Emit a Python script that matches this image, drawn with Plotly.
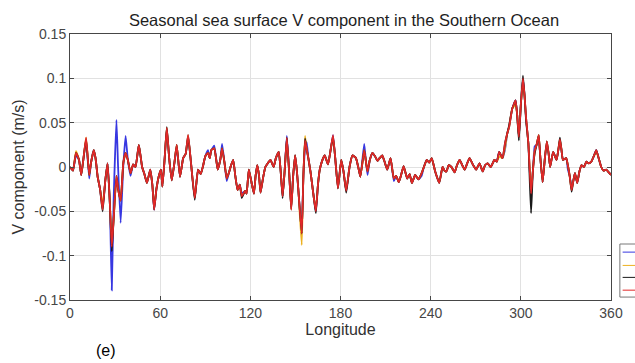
import plotly.graph_objects as go

# Longitudes (deg) and values (red series = main curve)
lon = [0, 2, 4, 6, 7.5, 9, 10.7, 12.8, 14, 15.8, 17, 18.4, 20, 21.7, 23.5, 25, 26.5, 27.8, 29, 30.9,
       32, 33.7, 35.5, 37, 38.5, 40.3, 42, 43.6, 45.8, 48, 49.5, 51.2, 53.4, 54.8, 56, 57.5, 59, 60.5,
       61.5, 63, 64.4, 66, 67.7, 69.5, 71, 73.2, 75.3, 77, 78.6, 80.5, 83, 85.2, 87, 88.5, 90, 91.8,
       93, 94, 96, 98.3, 100, 101.2, 102.8, 104.3, 106, 107, 108.6, 110, 111.5, 113, 114.3, 116.5,
       117.5, 119, 120.5, 122.4, 123.5, 124.6, 125.8, 126.8, 128.5, 130, 131.5, 133.4, 135.5, 137,
       138.9, 140.2, 141.5, 143, 144.3, 145.8, 147.2, 148.5, 149.8, 151, 152, 154.2, 155.3, 156.4,
       157.5, 158.6, 160, 161, 162.5, 163.6, 165, 166.2, 168, 169.5, 171.7, 173.5, 175, 176.5, 178.3,
       180.5, 182, 183.8, 186, 188, 190.3, 191.8, 193.2, 195.8, 197, 198, 199.5, 201.3, 203, 204.6,
       206, 207.8, 209.5, 211.1, 213.3, 215.5, 217, 218.8, 220.5, 222, 224.4, 226, 227.5, 229.7,
       231.9, 234, 235.5, 237.4, 239, 240.7, 243, 245.7, 247.9, 249.2, 250.5, 252, 253.8, 256,
       257.5, 259.3, 261, 262.6, 264.5, 265.9, 268, 270.3, 272.5, 274.6, 276.2, 277.9, 280, 282.4,
       284, 285.6, 287.8, 289.5, 291, 292.2, 294.3, 296.5, 297.5, 298.7, 300, 301.4, 302.5, 303.5,
       305, 306.8, 308, 309.2, 310.5, 311.9, 313, 314.5, 316, 317.3, 318.5, 319.5, 321.5, 323.8,
       325, 326, 327, 328, 330.2, 331.3, 332.5, 333.8, 335, 336, 337.5, 339, 340.3, 342, 343.6,
       345.2, 346.9, 348.5, 350.2, 351.8, 353.5, 355, 356.8, 358.5, 360]

red_v = [0.000, -0.004, 0.016, 0.008, -0.009, 0.010, 0.033, -0.009, 0.005, 0.019, 0.010, -0.011,
         -0.025, -0.048, -0.015, 0.004, -0.040, -0.090, -0.060, -0.010, -0.025, -0.038, 0.005,
         0.016, 0.008, -0.007, 0.003, 0.000, 0.025, 0.000, -0.008, -0.018, -0.003, -0.020, -0.048,
         -0.025, -0.011, -0.003, -0.022, 0.010, 0.044, 0.010, -0.015, 0.005, 0.025, -0.011, 0.010,
         0.015, 0.036, 0.005, -0.035, -0.003, -0.008, 0.001, 0.012, 0.016, 0.010, 0.019, 0.021,
         -0.003, 0.008, 0.021, 0.005, -0.013, -0.005, 0.001, 0.008, -0.010, -0.026, -0.020,
         -0.033, -0.027, -0.030, -0.003, -0.015, -0.030, -0.010, 0.002, -0.010, -0.029, -0.012,
         0.000, 0.004, 0.008, 0.000, 0.010, 0.017, -0.005, -0.033, 0.000, 0.033, -0.005, -0.048,
         -0.010, 0.013, -0.005, -0.027, -0.075, -0.010, 0.030, 0.020, 0.010, -0.005, -0.018,
         -0.038, -0.050, -0.020, -0.003, 0.008, 0.013, 0.003, 0.020, 0.036, 0.010, -0.024, 0.008,
         -0.005, -0.027, 0.000, 0.013, 0.010, 0.000, -0.011, 0.019, 0.005, -0.005, 0.008, 0.016,
         0.012, 0.007, 0.010, 0.013, 0.005, -0.003, 0.010, -0.013, -0.010, -0.017, -0.008, 0.001,
         -0.013, -0.008, -0.018, -0.009, -0.014, -0.007, 0.000, 0.008, 0.005, 0.010, -0.005,
         -0.018, 0.000, -0.004, -0.005, 0.002, 0.000, -0.006, 0.002, 0.008, 0.002, -0.003, 0.005,
         0.010, 0.003, -0.003, 0.004, -0.005, 0.002, 0.004, 0.000, 0.008, 0.006, 0.017, 0.010,
         0.027, 0.038, 0.045, 0.066, 0.075, 0.060, 0.034, 0.070, 0.100, 0.080, 0.055, 0.027,
         -0.030, -0.005, 0.018, 0.025, 0.036, 0.010, -0.017, 0.010, 0.029, 0.015, 0.000, 0.017,
         0.008, 0.020, 0.031, 0.020, 0.008, 0.010, 0.002, -0.010, -0.026, -0.015, -0.007, -0.018,
         -0.005, 0.002, 0.000, 0.006, 0.004, 0.006, 0.012, 0.019, 0.010, 0.000, -0.004, -0.003,
         -0.006, -0.009]

# Where the other seasons visibly depart from the red curve (longitude: value)
blue_diff = {4: 0.013, 10.7: 0.030, 12.8: -0.013, 21.7: -0.045, 27.8: -0.139, 29: -0.040,
             30.9: 0.053, 32: 0.000, 33.7: -0.063, 35.5: 0.002, 37: 0.035, 40.3: -0.010,
             64.4: 0.042, 71: 0.022, 91.8: 0.019, 96: 0.024, 101.2: 0.026, 104.3: -0.016,
             114.3: -0.030, 144.3: 0.035, 156.4: 0.020, 157.5: 0.028, 195.8: 0.026,
             198: -0.009, 215.5: -0.016, 234: -0.010, 289.5: 0.020, 309.2: 0.023,
             311.9: 0.032, 317.3: 0.026, 326: 0.027, 331.3: -0.003, 333.8: -0.022}
yellow_diff = {4: 0.018, 21.7: -0.042, 27.8: -0.085, 56: -0.045, 144.3: 0.030,
               154.2: -0.088, 156.4: 0.035, 163.6: -0.046, 175: 0.033, 285.6: 0.012,
               289.5: 0.022, 296.5: 0.070, 301.4: 0.095, 306.8: -0.025, 350.2: 0.017}
black_diff = {10.7: 0.031, 21.7: -0.050, 27.8: -0.095, 64.4: 0.045, 78.6: 0.034, 83: -0.037,
              114.3: -0.035, 141.5: -0.035, 147.2: -0.046, 156.4: 0.032, 163.6: -0.052,
              175: 0.034, 183.8: -0.029, 292.2: 0.047, 298.7: 0.030, 301.4: 0.103,
              303.5: 0.052, 306.8: -0.052, 309.2: 0.015, 326: 0.033, 333.8: -0.028}

def series(diff):
    return [diff.get(x, v) for x, v in zip(lon, red_v)]

blue_v = series(blue_diff)
yellow_v = series(yellow_diff)
black_v = series(black_diff)

x_ticks = [0, 60, 120, 180, 240, 300, 360]
y_ticks = [-0.15, -0.1, -0.05, 0, 0.05, 0.1, 0.15]
y_tick_text = ["-0.15", "-0.1", "-0.05", "0", "0.05", "0.1", "0.15"]

colors = ["rgb(55,55,225)", "rgb(237,177,32)", "rgb(25,25,25)", "rgb(225,40,40)"]

fig = go.Figure()
for vals, c in zip([blue_v, yellow_v, black_v, red_v], colors):
    fig.add_trace(go.Scatter(x=lon, y=vals, mode="lines",
                             line=dict(color=c, width=1.8, shape="spline", smoothing=0.4),
                             showlegend=False, hoverinfo="skip"))

FONT = "Liberation Sans, Arial"
axis_common = dict(showgrid=True, gridcolor="rgb(225,225,225)", gridwidth=1,
                   showline=True, linecolor="rgb(70,70,70)", linewidth=1, mirror="ticks",
                   ticks="inside", ticklen=4, tickcolor="rgb(70,70,70)", zeroline=False,
                   tickfont=dict(family=FONT, size=14, color="rgb(70,70,70)"))

fig.update_xaxes(range=[0, 360], tickvals=x_ticks, ticktext=[str(t) for t in x_ticks],
                 title=dict(text="Longitude", standoff=3,
                            font=dict(family=FONT, size=16, color="rgb(50,50,50)")),
                 **axis_common)
fig.update_yaxes(range=[-0.15, 0.15], tickvals=y_ticks, ticktext=y_tick_text,
                 title=dict(text="V component (m/s)", standoff=5,
                            font=dict(family=FONT, size=16, color="rgb(50,50,50)")),
                 **axis_common)

# Partially visible legend box at the right edge
shapes = [dict(type="rect", xref="paper", yref="paper", x0=1.0164, x1=1.06, y0=0.011, y1=0.2105,
               line=dict(color="rgb(120,120,120)", width=1), fillcolor="white", layer="above")]
for yy, c in zip([0.18, 0.13, 0.085, 0.037], colors):
    shapes.append(dict(type="line", xref="paper", yref="paper", x0=1.0215, x1=1.06, y0=yy, y1=yy,
                       line=dict(color=c, width=1), layer="above"))

fig.update_layout(
    width=635, height=363,
    margin=dict(l=70, r=17, t=34, b=63),
    paper_bgcolor="white", plot_bgcolor="white",
    title=dict(text="Seasonal sea surface V component in the Southern Ocean",
               x=(70 + 274) / 635, xanchor="center", y=1 - 20 / 363, yanchor="middle",
               font=dict(family=FONT, size=16.5, color="rgb(30,30,30)")),
    shapes=shapes,
    annotations=[dict(text="(e)", xref="paper", yref="paper", x=(106 - 70) / 548,
                      y=(300 - 350) / 266, xanchor="center", yanchor="middle", showarrow=False,
                      font=dict(family=FONT, size=16, color="black"))],
)

fig.write_html("out.html")
